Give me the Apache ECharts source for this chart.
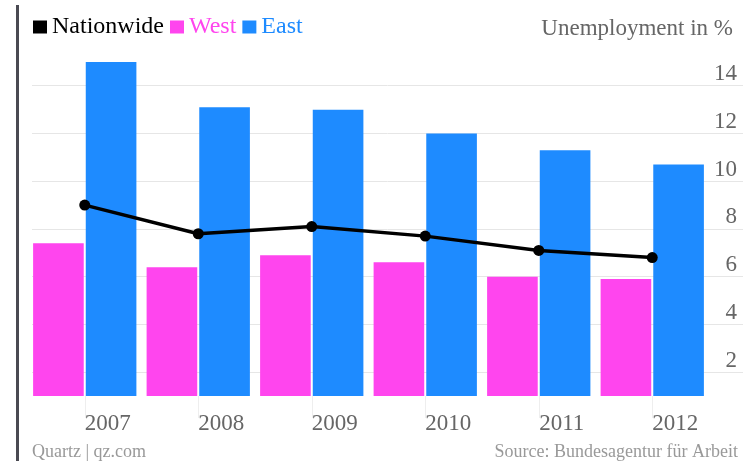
<!DOCTYPE html>
<html>
<head>
<meta charset="utf-8">
<script src="https://cdn.jsdelivr.net/npm/echarts@6/dist/echarts.min.js"></script>
<style>html,body{margin:0;padding:0;background:#fff;}#c{width:755px;height:461px;}</style>
</head>
<body>
<div id="c"></div>
<script>
const years = ['2007', '2008', '2009', '2010', '2011', '2012'];
const nationwide = [9.0, 7.8, 8.1, 7.7, 7.1, 6.8];
const west = [7.4, 6.4, 6.9, 6.6, 6.0, 5.9];
const east = [15.0, 13.1, 13.0, 12.0, 11.3, 10.7];
const yTicks = [2, 4, 6, 8, 10, 12, 14];

const FONT = '"Liberation Serif", serif';
const chart = echarts.init(document.getElementById('c'), null, {renderer: 'canvas'});
chart.setOption({
  animation: false,
  backgroundColor: '#fff',
  title: {
    text: 'Unemployment in %', right: 17, top: 12,
    textStyle: {fontFamily: FONT, fontSize: 23, fontWeight: 'normal', color: '#666'}
  },
  legend: {
    left: 28, top: 10, icon: 'rect', itemWidth: 14, itemHeight: 13, itemGap: 6,
    textStyle: {fontFamily: FONT, fontSize: 24},
    data: [
      {name: 'Nationwide', textStyle: {color: '#000'}},
      {name: 'West', textStyle: {color: '#ff45ee'}},
      {name: 'East', textStyle: {color: '#1e8bff'}}
    ]
  },
  grid: [
    {left: 28, right: 46, top: 50, bottom: 65},
    {left: 32, right: 12, top: 85.7, bottom: 41.3}
  ],
  xAxis: [
    {
      type: 'category', gridIndex: 0, data: years,
      axisLine: {show: false},
      axisTick: {show: true, alignWithLabel: true, length: 22, lineStyle: {color: '#eee'}},
      axisLabel: {fontFamily: FONT, fontSize: 23, color: '#666', margin: 16, padding: [0, 0, 0, 46]}
    },
    {type: 'value', gridIndex: 1, show: false, min: 0, max: 1}
  ],
  yAxis: [
    {type: 'value', gridIndex: 0, min: 1, max: 15.5, show: false, splitLine: {show: false}},
    {
      type: 'value', gridIndex: 1, position: 'right', min: 0, max: 14, interval: 2,
      axisLine: {show: false}, axisTick: {show: false},
      axisLabel: {inside: true, showMinLabel: false, fontFamily: FONT, fontSize: 23, color: '#666',
        margin: 6, verticalAlign: 'bottom', padding: [0, 0, 0, 0]},
      splitLine: {show: true, showMinLine: false, lineStyle: {color: '#e6e6e6', width: 1}}
    }
  ],
  series: [
    {name: 'West', type: 'bar', xAxisIndex: 0, yAxisIndex: 0, data: west,
      itemStyle: {color: '#ff45ee'}, barGap: '4%', barCategoryGap: '9%', z: 2},
    {name: 'East', type: 'bar', xAxisIndex: 0, yAxisIndex: 0, data: east,
      itemStyle: {color: '#1e8bff'}, z: 2},
    {name: 'Nationwide', type: 'line', xAxisIndex: 0, yAxisIndex: 0, data: nationwide,
      symbol: 'circle', symbolSize: 11, lineStyle: {color: '#000', width: 3.5},
      itemStyle: {color: '#000'}, z: 5}
  ],
  graphic: [
    {type: 'rect', left: 16, top: 5, shape: {width: 3, height: 456}, style: {fill: '#4a4a52'}},
    {type: 'text', left: 32, top: 443, style: {text: 'Quartz | qz.com', font: '18px "Liberation Serif", serif', fill: '#999'}},
    {type: 'text', right: 17, top: 443, style: {text: 'Source: Bundesagentur für Arbeit', font: '18px "Liberation Serif", serif', fill: '#999'}}
  ]
});
</script>
</body>
</html>
